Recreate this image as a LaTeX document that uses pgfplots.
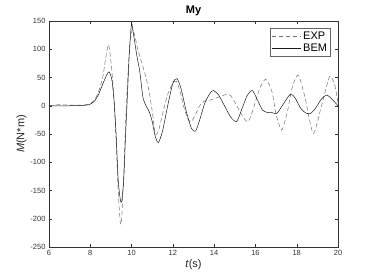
\documentclass[border=0pt]{standalone}
\usepackage{pgfplots}
\pgfplotsset{compat=1.18}
\usepackage{fontspec}
\setmainfont{Liberation Sans}
\begin{document}
\begin{tikzpicture}[x=1pt,y=1pt]
\begin{axis}[
  scale only axis,
  width=289pt, height=226pt,
  xmin=6, xmax=20, ymin=-250, ymax=150,
  xtick={6,8,...,20}, ytick={-250,-200,...,150},
  tick align=inside,
  major tick length=3pt,
  axis line style={black!80, line width=0.4pt},
  every tick/.style={black!80, line width=0.4pt},
  tick label style={font=\fontsize{7.5}{8}\selectfont, text=black!80},
  /pgf/number format/assume math mode=true,
  title={\bfseries My},
  title style={font=\fontsize{11}{12}\selectfont, yshift=-4pt},
  xlabel={\textit{t}(s)},
  ylabel={\textit{M}(N*m)},
  label style={font=\fontsize{11}{12}\selectfont, text=black!85},
  xlabel style={yshift=3pt},
  ylabel style={yshift=-3pt},
  legend style={at={(0.975,0.97)}, anchor=north east, draw=black!60, font=\fontsize{11}{12}\selectfont, inner sep=1.5pt, row sep=-1pt, legend cell align=left},
  legend image code/.code={\draw[#1] (0pt,0pt) -- (29pt,0pt);},
]
\coordinate (ll) at (rel axis cs:0,0);
\coordinate (ur) at (rel axis cs:1,1);
\addplot[smooth, tension=0.4, black!55, dash pattern=on 4.5pt off 2.5pt, line width=0.5pt] coordinates {
(6.0,0) (6.5,2) (7.0,1) (7.5,1) (7.8,2) (8.0,4) (8.2,10) (8.4,25) (8.6,50) (8.75,85) (8.87,108) (8.95,95) (9.05,60) (9.15,10) (9.25,-60) (9.35,-150) (9.45,-205) (9.5,-208) (9.55,-180) (9.62,-120) (9.7,-40) (9.8,40) (9.9,100) (10.0,130) (10.05,135) (10.15,125) (10.3,100) (10.5,75) (10.7,50) (10.85,25) (11.0,-10) (11.15,-50) (11.3,-45) (11.5,-15) (11.75,20) (12.0,40) (12.17,43) (12.35,25) (12.55,-5) (12.75,-25) (12.9,-28) (13.1,-15) (13.3,0) (13.5,8) (13.8,10) (14.2,15) (14.6,20) (14.8,18) (15.1,0) (15.4,-20) (15.65,-28) (15.9,-5) (16.2,30) (16.5,47) (16.8,25) (17.0,-15) (17.27,-43) (17.55,-10) (17.8,35) (18.08,54) (18.4,15) (18.8,-49) (19.2,0) (19.6,52) (19.85,35) (20.0,5)
};
\addlegendentry{EXP}
\addplot[smooth, tension=0.4, black!90, line width=0.5pt] coordinates {
(6.0,0) (7.0,0) (7.8,1) (8.0,3) (8.2,8) (8.4,20) (8.6,38) (8.8,55) (8.92,60) (9.05,45) (9.15,10) (9.25,-50) (9.35,-130) (9.45,-165) (9.52,-170) (9.62,-130) (9.7,-60) (9.8,20) (9.9,100) (10.0,145) (10.1,125) (10.25,90) (10.4,60) (10.55,15) (10.7,0) (10.85,-10) (11.0,-28) (11.15,-55) (11.3,-65) (11.5,-45) (11.75,0) (12.0,40) (12.2,48) (12.4,30) (12.65,-10) (12.9,-40) (13.1,-45) (13.3,-25) (13.55,5) (13.8,22) (13.96,27) (14.2,20) (14.5,0) (14.8,-20) (15.09,-28) (15.35,-5) (15.6,18) (15.85,27) (16.1,10) (16.35,-8) (16.6,-12) (16.8,-12) (17.03,-14) (17.3,0) (17.68,20) (17.9,15) (18.2,-5) (18.45,-13) (18.65,-14) (18.9,-5) (19.2,12) (19.45,19) (19.7,12) (20.0,0)
};
\addlegendentry{BEM}
\end{axis}
\pgfresetboundingbox
\path[use as bounding box] ([shift={(-49pt,-33pt)}]ll) rectangle ([shift={(36pt,21pt)}]ur);
\end{tikzpicture}
\end{document}
